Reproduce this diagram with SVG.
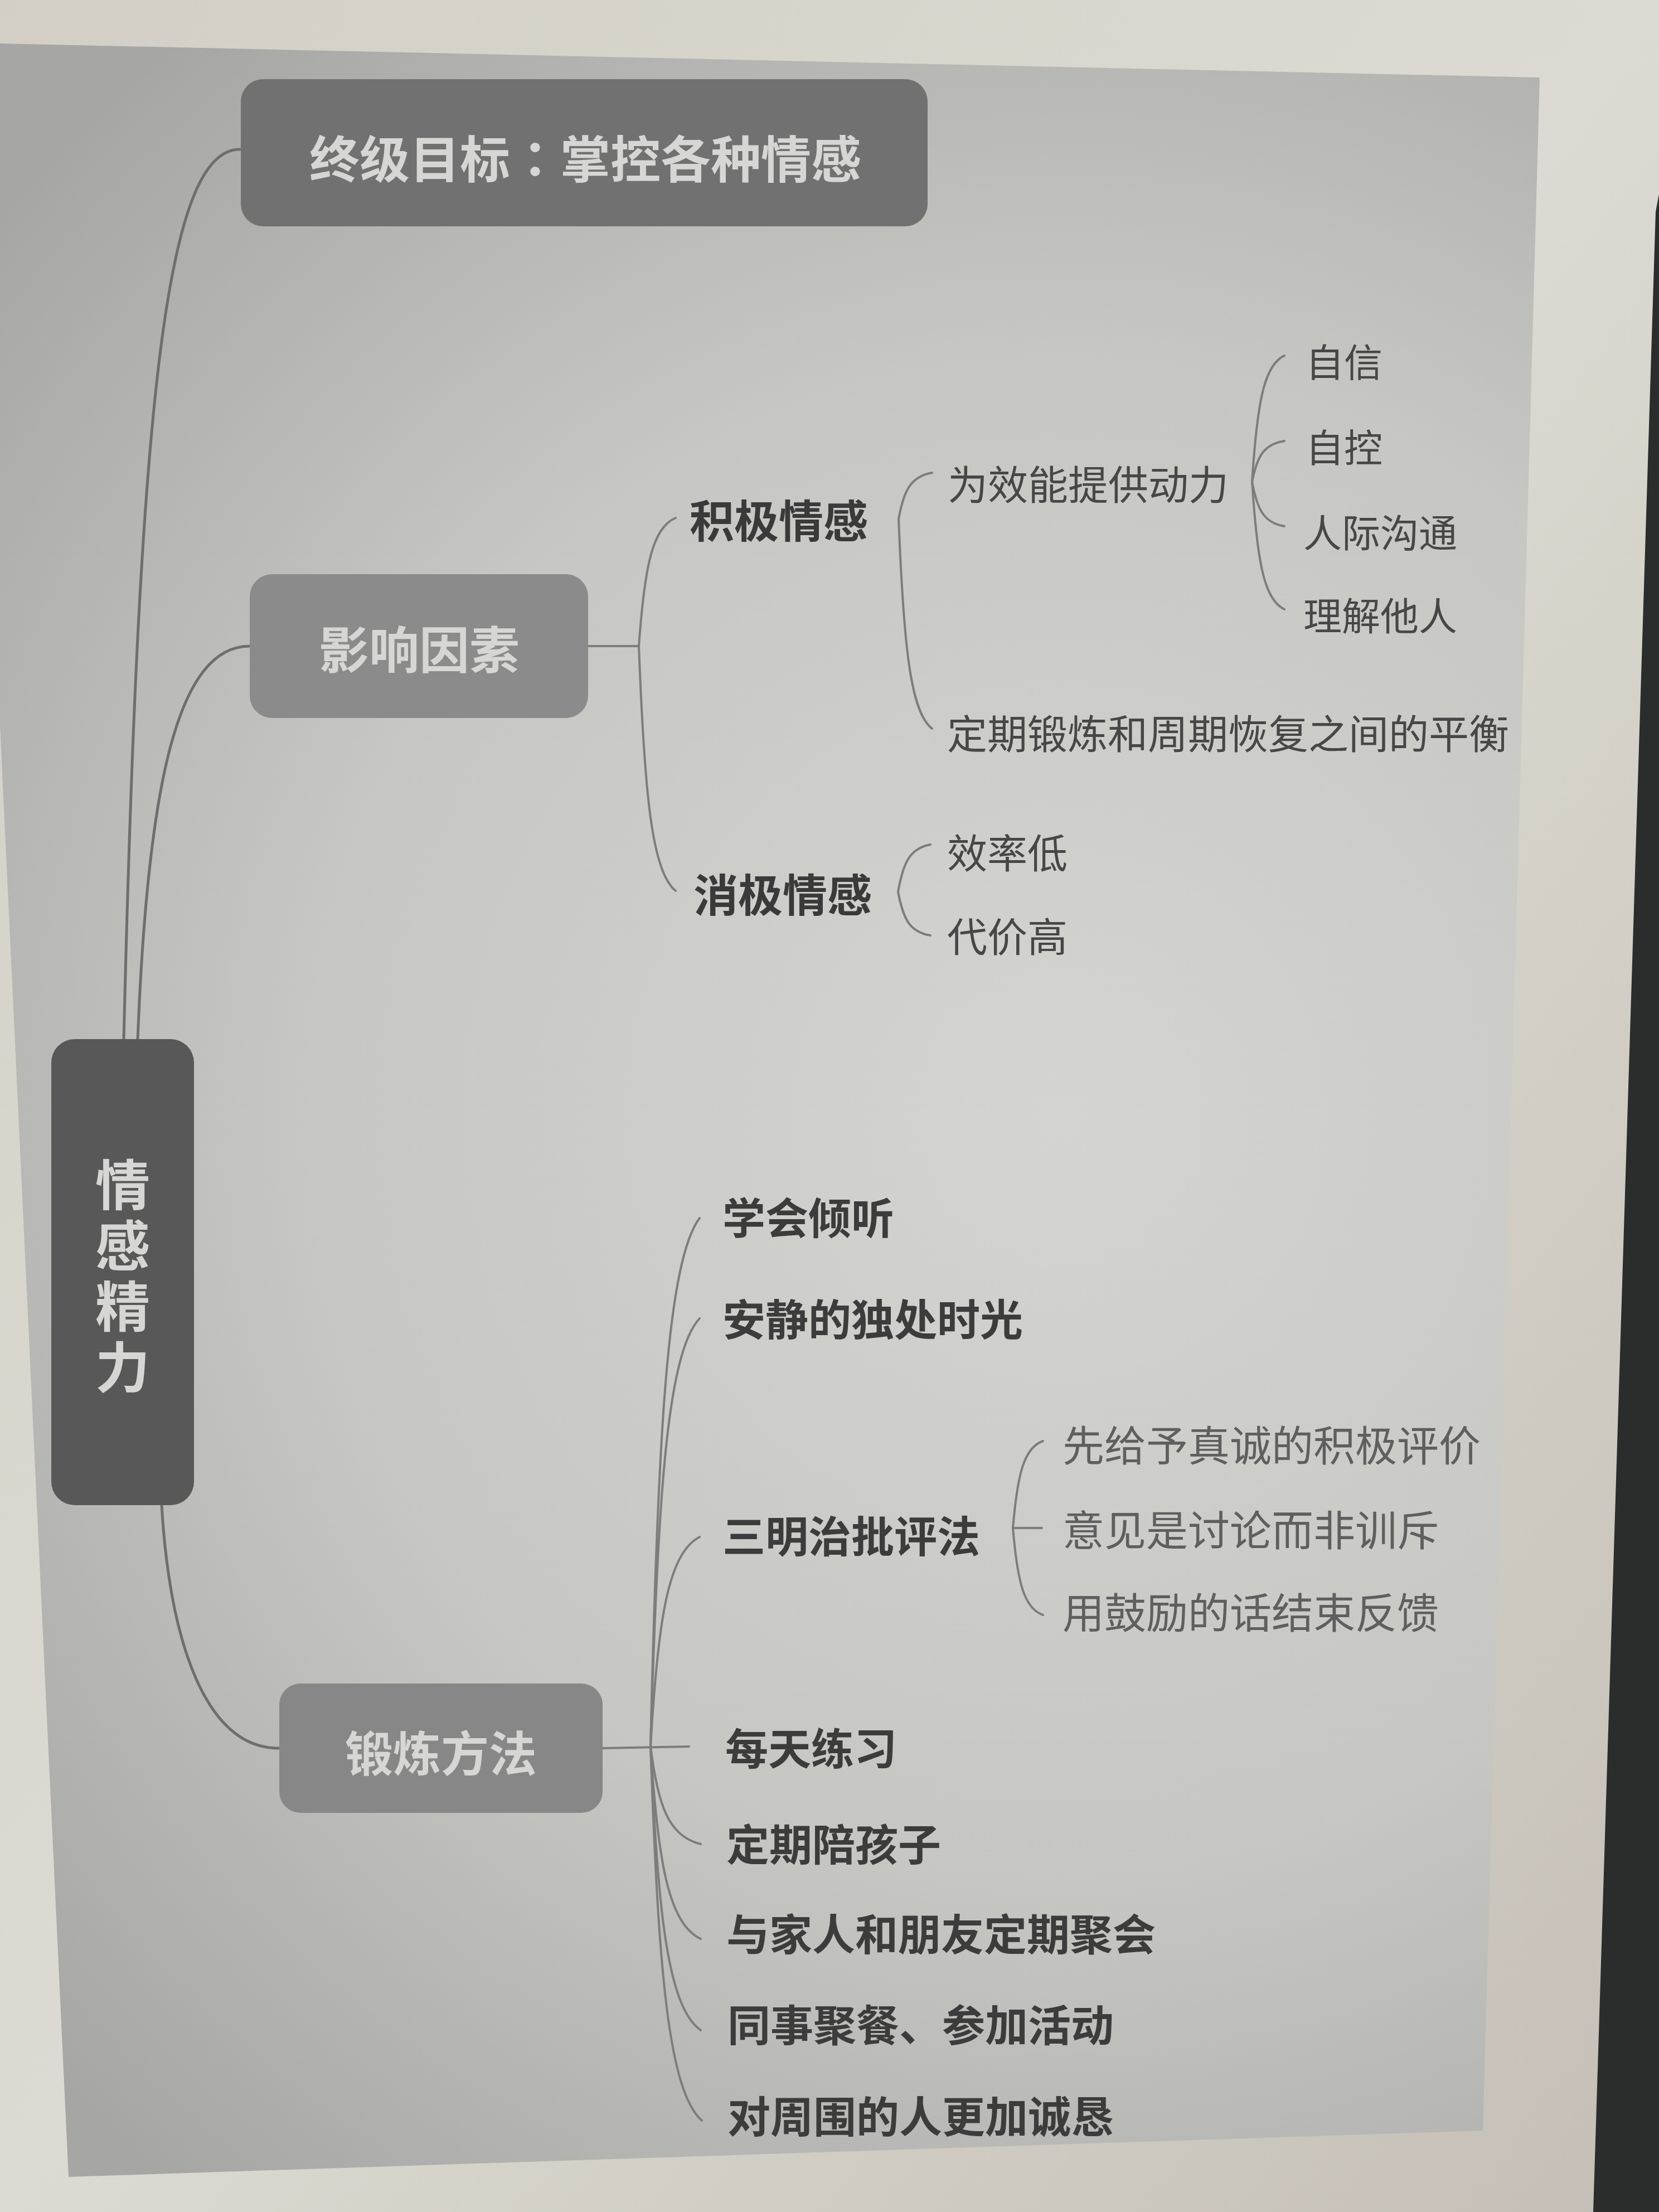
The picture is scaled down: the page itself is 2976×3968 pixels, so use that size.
<svg xmlns="http://www.w3.org/2000/svg" width="2976" height="3968" viewBox="0 0 2976 3968">
<defs>
<radialGradient id="page" cx="1900" cy="2000" r="2500" gradientUnits="userSpaceOnUse">
<stop offset="0" stop-color="#d4d4d1"/>
<stop offset="0.55" stop-color="#c6c6c3"/>
<stop offset="1" stop-color="#a6a6a4"/>
</radialGradient>
<linearGradient id="outer" x1="0" y1="0" x2="1" y2="1">
<stop offset="0" stop-color="#d3cfc7"/>
<stop offset="0.5" stop-color="#dcdad2"/>
<stop offset="1" stop-color="#c4beb6"/>
</linearGradient>
<style>
.t{font-family:"Noto Sans CJK SC","Noto Sans",sans-serif;dominant-baseline:central}
.nodeText{fill:#d6d6d4;font-weight:700;text-anchor:middle}
.vert{fill:#d6d6d4;font-weight:700;writing-mode:vertical-rl;text-anchor:start;letter-spacing:11px}
.l1{fill:#3a3a3a;font-weight:700;font-size:80px}
.l2{fill:#474747;font-weight:400;font-size:72px}
.l3{fill:#474747;font-weight:400;font-size:69px}
.m1{fill:#3c3c3c;font-weight:700;font-size:77px}
.m2{fill:#5f5f5f;font-weight:400;font-size:75px}
.main{fill:none;stroke:#6e6e6e;stroke-width:5;stroke-linecap:round}
.br{fill:none;stroke:#7d7d7d;stroke-width:4;stroke-linecap:round}
</style>
</defs>
<rect x="0" y="0" width="2976" height="3968" fill="url(#outer)"/>
<polygon points="2985,300 2985,3968 2858,3968 2970,380" fill="#2a2d2b"/>
<polygon points="0,78 2762,139 2660,3822 123,3905 0,1300" fill="url(#page)"/>

<g id="connectors">
<path class="main" d="M222,1865 C250,700 300,268 430,268"/>
<path class="main" d="M247,1865 C265,1400 320,1159 448,1159"/>
<path class="main" d="M290,2700 C305,2950 370,3136 500,3136"/>
<path class="br" d="M1055,1159 L1146,1159"/>
<path class="br" d="M1146,1159 C1156,1021 1169,947 1212,929"/>
<path class="br" d="M1146,1159 C1156,1422 1169,1563 1212,1598"/>
<path class="br" d="M1612,931 C1621,881 1633,855 1672,848"/>
<path class="br" d="M1612,931 C1621,1157 1633,1277 1672,1307"/>
<path class="br" d="M2246,864 C2255,728 2266,656 2304,638"/>
<path class="br" d="M2246,864 C2255,820 2266,797 2304,791"/>
<path class="br" d="M2246,864 C2255,912 2266,938 2304,944"/>
<path class="br" d="M2246,864 C2255,1001 2266,1075 2304,1093"/>
<path class="br" d="M1611,1600 C1620,1549 1631,1522 1669,1515"/>
<path class="br" d="M1611,1600 C1620,1647 1631,1672 1669,1678"/>
<path class="br" d="M1817,2741 C1825,2647 1836,2597 1871,2585"/>
<path class="br" d="M1817,2741 L1869,2741"/>
<path class="br" d="M1817,2741 C1825,2835 1836,2885 1871,2897"/>
<path class="br" d="M1081,3136 L1236,3133"/>
<path class="br" d="M1167,3133 C1180,2564 1198,2261 1255,2185"/>
<path class="br" d="M1167,3133 C1180,2672 1198,2426 1255,2365"/>
<path class="br" d="M1167,3133 C1180,2907 1198,2787 1255,2757"/>
<path class="br" d="M1167,3133 C1180,3238 1199,3294 1257,3308"/>
<path class="br" d="M1167,3133 C1180,3340 1199,3450 1257,3478"/>
<path class="br" d="M1167,3133 C1180,3438 1199,3601 1257,3642"/>
<path class="br" d="M1167,3133 C1181,3536 1199,3750 1259,3804"/>
</g>

<g id="root">
<rect x="92" y="1864" width="256" height="836" rx="42" fill="#585858"/>
<text class="t vert" font-size="98" x="220" y="2076">情感精力</text>
</g>

<g id="goal">
<rect x="432" y="142" width="1232" height="264" rx="40" fill="#717171"/>
<text class="t nodeText" font-size="90" x="1050" y="280">终级目标<tspan font-family="Noto Sans CJK TC, sans-serif">：</tspan>掌控各种情感</text>
</g>

<g id="factors">
<rect x="448" y="1030" width="607" height="258" rx="40" fill="#8b8b8b"/>
<text class="t nodeText" font-size="90" x="752" y="1160">影响因素</text>
</g>

<g id="methods">
<rect x="501" y="3020" width="580" height="232" rx="38" fill="#878787"/>
<text class="t nodeText" font-size="86" x="791" y="3140">锻炼方法</text>
</g>

<g id="positive"><text class="t l1" x="1237" y="929">积极情感</text></g>
<g id="negative"><text class="t l1" x="1244" y="1600">消极情感</text></g>
<g id="power"><text class="t l2" x="1700" y="864">为效能提供动力</text></g>
<g id="balance"><text class="t l2" x="1699" y="1311">定期锻炼和周期恢复之间的平衡</text></g>
<g id="confidence"><text class="t l3" x="2342" y="646">自信</text></g>
<g id="selfcontrol"><text class="t l3" x="2342" y="799">自控</text></g>
<g id="communication"><text class="t l3" x="2338" y="952">人际沟通</text></g>
<g id="understanding"><text class="t l3" x="2338" y="1101">理解他人</text></g>
<g id="lowefficiency"><text class="t l2" x="1699" y="1525">效率低</text></g>
<g id="highcost"><text class="t l2" x="1699" y="1675">代价高</text></g>

<g id="listen"><text class="t m1" x="1296" y="2180">学会倾听</text></g>
<g id="quiet"><text class="t m1" x="1296" y="2362">安静的独处时光</text></g>
<g id="sandwich"><text class="t m1" x="1296" y="2751">三明治批评法</text></g>
<g id="s1"><text class="t m2" x="1906" y="2588">先给予真诚的积极评价</text></g>
<g id="s2"><text class="t m2" x="1906" y="2740">意见是讨论而非训斥</text></g>
<g id="s3"><text class="t m2" x="1906" y="2888">用鼓励的话结束反馈</text></g>
<g id="daily"><text class="t m1" x="1301" y="3132">每天练习</text></g>
<g id="children"><text class="t m1" x="1303" y="3304">定期陪孩子</text></g>
<g id="family"><text class="t m1" x="1303" y="3465">与家人和朋友定期聚会</text></g>
<g id="colleagues"><text class="t m1" x="1305" y="3628">同事聚餐、参加活动</text></g>
<g id="sincere"><text class="t m1" x="1305" y="3792">对周围的人更加诚恳</text></g>
</svg>
